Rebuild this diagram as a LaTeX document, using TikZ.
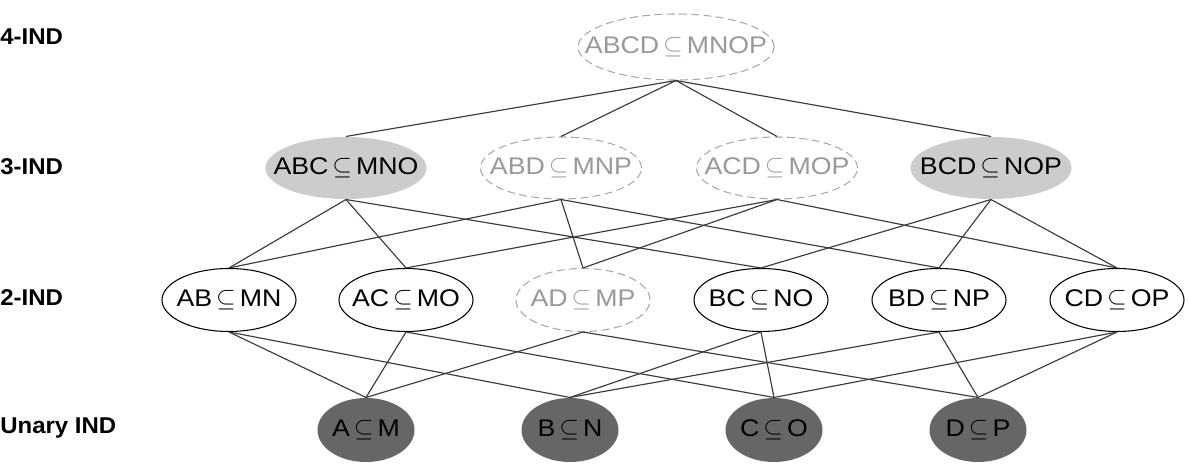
\documentclass[tikz,border=0pt]{standalone}
\usepackage{fontspec}
\setmainfont[FakeStretch=1.11]{Liberation Sans}
\newfontfamily\lvlfont[FakeStretch=1.05]{Liberation Sans}
\usetikzlibrary{shapes.geometric}
\definecolor{keptfill}{HTML}{CCCCCC}
\definecolor{unaryfill}{HTML}{666666}
\definecolor{prunedgray}{HTML}{A8A8A8}
\definecolor{prunedtext}{HTML}{999999}
\definecolor{edgegray}{HTML}{3A3A3A}
\newcommand{\incl}[2]{\makebox[0pt]{#1\,$\subseteq$\,#2}}
\begin{document}
\begin{tikzpicture}[every node/.style={font=\fontsize{13.7}{16}\selectfont},
  ind/.style={ellipse,draw,line width=0.6pt,inner sep=0pt},
  lvlfour/.style={minimum width=3.92cm,minimum height=1.32cm},
  lvlthree/.style={minimum width=3.22cm,minimum height=1.24cm},
  lvltwo/.style={minimum width=2.68cm,minimum height=1.26cm},
  lvlone/.style={minimum width=1.94cm,minimum height=1.28cm,draw=none,fill=unaryfill},
  kept/.style={draw=none,fill=keptfill},
  pruned/.style={draw=prunedgray,dash pattern=on 4.5pt off 2.5pt,text=prunedtext},
  lbl/.style={anchor=base west,inner sep=0pt,font=\lvlfont\bfseries\fontsize{13}{15}\selectfont},
  edge/.style={draw=edgegray,line width=0.65pt}]
\useasboundingbox (0,0) rectangle (23.78,9.36);
% level labels
\node[lbl] (l4) at (0,8.46) {4-IND};
\node[lbl] (l3) at (0,5.87) {3-IND};
\node[lbl] (l2) at (0,3.25) {2-IND};
\node[lbl] (l1) at (0,0.69) {Unary IND};
% 4-IND
\node[ind,lvlfour,pruned] (abcd) at (13.52,8.42) {\incl{ABCD}{MNOP}};
% 3-IND
\node[ind,lvlthree,kept] (abc) at (6.92,6.0) {\incl{ABC}{MNO}};
\node[ind,lvlthree,pruned] (abd) at (11.22,6.0) {\incl{ABD}{MNP}};
\node[ind,lvlthree,pruned] (acd) at (15.54,6.0) {\incl{ACD}{MOP}};
\node[ind,lvlthree,kept] (bcd) at (19.82,6.0) {\incl{BCD}{NOP}};
% 2-IND
\node[ind,lvltwo] (ab) at (4.58,3.36) {\incl{AB}{MN}};
\node[ind,lvltwo] (ac) at (8.12,3.36) {\incl{AC}{MO}};
\node[ind,lvltwo,pruned] (ad) at (11.66,3.36) {\incl{AD}{MP}};
\node[ind,lvltwo] (bc) at (15.22,3.36) {\incl{BC}{NO}};
\node[ind,lvltwo] (bd) at (18.78,3.36) {\incl{BD}{NP}};
\node[ind,lvltwo] (cd) at (22.34,3.36) {\incl{CD}{OP}};
% unary
\node[ind,lvlone] (a) at (7.32,0.76) {\incl{A}{M}};
\node[ind,lvlone] (b) at (11.4,0.76) {\incl{B}{N}};
\node[ind,lvlone] (c) at (15.48,0.76) {\incl{C}{O}};
\node[ind,lvlone] (d) at (19.56,0.76) {\incl{D}{P}};
% edges
\foreach \u/\l in {abcd/abc,abcd/abd,abcd/acd,abcd/bcd,
  abc/ab,abc/ac,abc/bc,abd/ab,abd/ad,abd/bd,acd/ac,acd/ad,acd/cd,bcd/bc,bcd/bd,bcd/cd,
  ab/a,ab/b,ac/a,ac/c,ad/a,ad/d,bc/b,bc/c,bd/b,bd/d,cd/c,cd/d}
  \draw[edge] (\u.south) -- (\l.north);
\end{tikzpicture}
\end{document}
